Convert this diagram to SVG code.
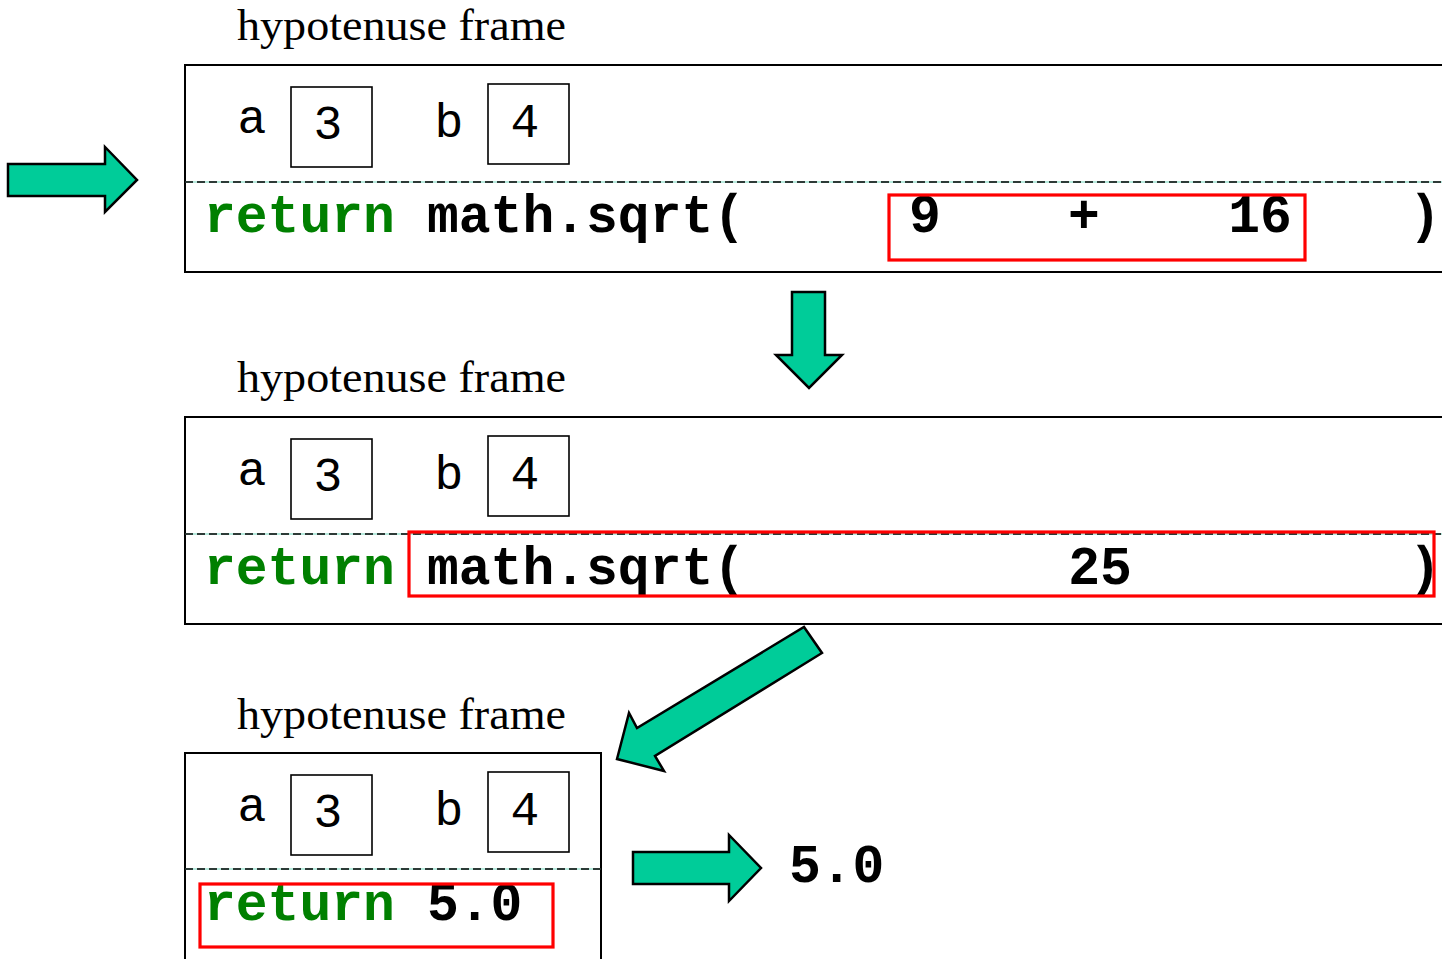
<svg xmlns="http://www.w3.org/2000/svg" width="1442" height="959" viewBox="0 0 1442 959">
  <style>
    .bg { fill: #ffffff; }
    .frame { fill: none; stroke: #000; stroke-width: 2; }
    .sep-base { stroke: #9fe3d2; stroke-width: 1.6; }
    .sep { stroke: #000; stroke-width: 1.6; stroke-dasharray: 8 4; }
    .var { fill: none; stroke: #000; stroke-width: 1.6; }
    .hl { fill: none; stroke: #ff0000; stroke-width: 3.2; }
    .arrow { fill: #00cc99; stroke: #000; stroke-width: 2.5; stroke-linejoin: miter; }
    .title { font-family: "Liberation Serif", "Times New Roman", serif; font-size: 44px; fill: #000; }
    .name { font-family: "Liberation Mono", "Courier New", monospace; font-size: 48px; fill: #000; text-anchor: middle; }
    .code { font-family: "Liberation Mono", "Courier New", monospace; font-size: 53px; font-weight: bold; fill: #000; }
    .kw { fill: #008000; }
    .mid { text-anchor: middle; }
  </style>

  <rect class="bg" x="0" y="0" width="1442" height="959"/>

  <!-- connectors: block arrows between the frame states -->
  <g id="connectors">
    <polygon class="arrow" points="8,164 105,164 105,147 137,180 105,212 105,196 8,196"/>
    <polygon class="arrow" points="792,292 825,292 825,355 842,355 809,388 776,355 792,355"/>
    <polygon class="arrow" points="804,627 822,653 655,756 664,771 617,759 629,713 637,728"/>
    <polygon class="arrow" points="633,852 729,852 729,835 761,868 729,901 729,884 633,884"/>
  </g>

  <!-- first state: sum still unevaluated -->
  <g id="frame1">
    <text class="title" x="237" y="40" textLength="329" lengthAdjust="spacingAndGlyphs">hypotenuse frame</text>
    <rect class="frame" x="185" y="65" width="1290" height="207"/>
    <text class="name" x="252" y="133">a</text>
    <rect class="var" x="291" y="87" width="81" height="80"/>
    <text class="name" x="328" y="139">3</text>
    <text class="name" x="449" y="137">b</text>
    <rect class="var" x="488" y="84" width="81" height="80"/>
    <text class="name" x="525" y="137">4</text>
    <line class="sep-base" x1="185" y1="182" x2="1442" y2="182"/>
    <line class="sep" x1="185" y1="182" x2="1442" y2="182"/>
    <text class="code kw" x="204" y="232">return</text>
    <text class="code" x="427" y="232">math.sqrt(</text>
    <text class="code mid" x="925" y="232">9</text>
    <text class="code mid" x="1084" y="232">+</text>
    <text class="code mid" x="1260" y="232">16</text>
    <text class="code mid" x="1425" y="232">)</text>
    <rect class="hl" x="889" y="195" width="416" height="65"/>
  </g>

  <!-- second state: sum reduced to 25 -->
  <g id="frame2">
    <text class="title" x="237" y="392" textLength="329" lengthAdjust="spacingAndGlyphs">hypotenuse frame</text>
    <rect class="frame" x="185" y="417" width="1290" height="207"/>
    <text class="name" x="252" y="485">a</text>
    <rect class="var" x="291" y="439" width="81" height="80"/>
    <text class="name" x="328" y="491">3</text>
    <text class="name" x="449" y="489">b</text>
    <rect class="var" x="488" y="436" width="81" height="80"/>
    <text class="name" x="525" y="489">4</text>
    <line class="sep-base" x1="185" y1="534" x2="1442" y2="534"/>
    <line class="sep" x1="185" y1="534" x2="1442" y2="534"/>
    <text class="code kw" x="204" y="584">return</text>
    <text class="code" x="427" y="584">math.sqrt(</text>
    <text class="code mid" x="1100" y="584">25</text>
    <text class="code mid" x="1425" y="584">)</text>
    <rect class="hl" x="409" y="532" width="1025" height="64"/>
  </g>

  <!-- third state: return value -->
  <g id="frame3">
    <text class="title" x="237" y="729" textLength="329" lengthAdjust="spacingAndGlyphs">hypotenuse frame</text>
    <rect class="frame" x="185" y="753" width="416" height="230"/>
    <text class="name" x="252" y="821">a</text>
    <rect class="var" x="291" y="775" width="81" height="80"/>
    <text class="name" x="328" y="827">3</text>
    <text class="name" x="449" y="825">b</text>
    <rect class="var" x="488" y="772" width="81" height="80"/>
    <text class="name" x="525" y="825">4</text>
    <line class="sep-base" x1="185" y1="869" x2="601" y2="869"/>
    <line class="sep" x1="185" y1="869" x2="601" y2="869"/>
    <text class="code kw" x="204" y="920">return</text>
    <text class="code" x="427" y="920">5.0</text>
    <rect class="hl" x="200" y="884" width="353" height="63"/>
  </g>

  <!-- result -->
  <g id="result">
    <text class="code" x="789" y="882">5.0</text>
  </g>
</svg>
